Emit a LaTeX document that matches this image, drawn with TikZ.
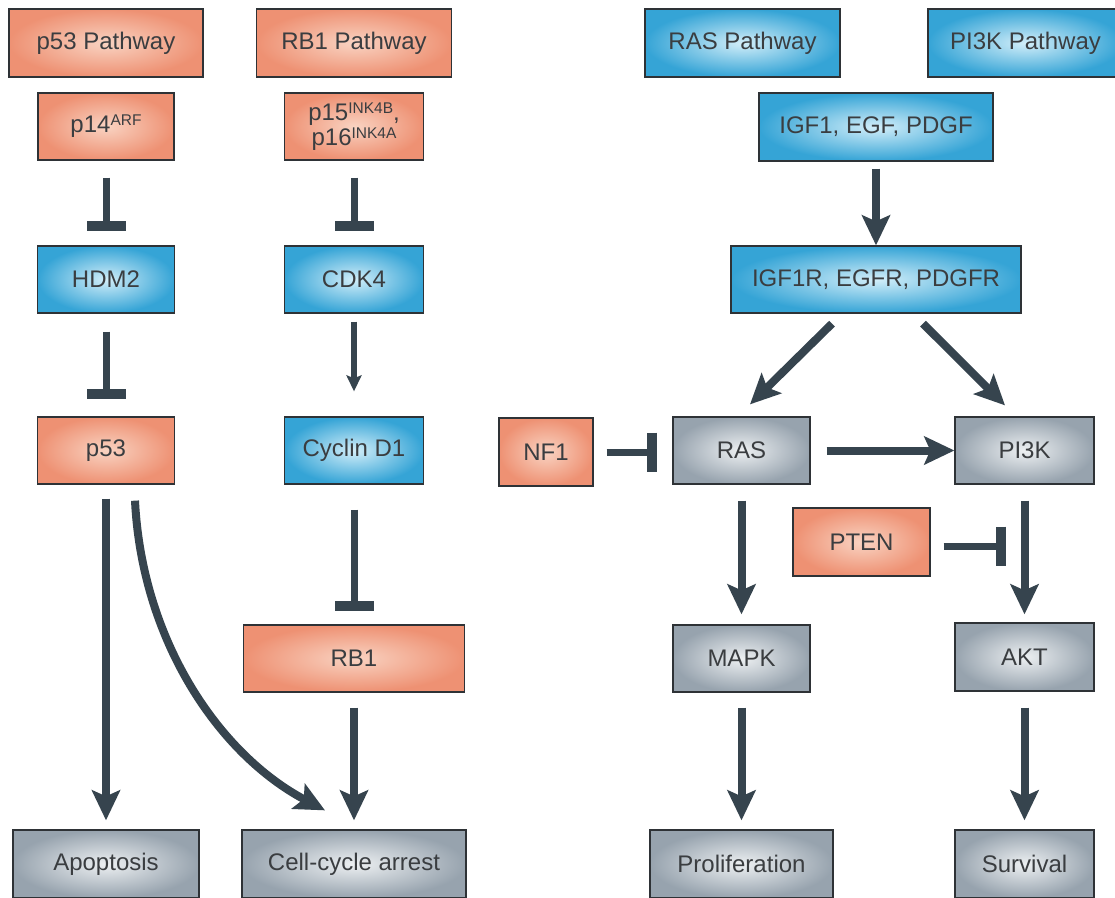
\documentclass[tikz,border=0pt]{standalone}
\usepackage{fontspec}
\setmainfont{Liberation Sans}
\usetikzlibrary{arrows.meta,calc}
\definecolor{salin}{HTML}{F9D3C2}
\definecolor{salout}{HTML}{EE9173}
\definecolor{bluin}{HTML}{D2EEF9}
\definecolor{bluout}{HTML}{35A4D6}
\definecolor{gryin}{HTML}{EDF0F2}
\definecolor{gryout}{HTML}{97A3AE}
\definecolor{boxline}{HTML}{2E3236}
\definecolor{txt}{HTML}{3A3D40}
\definecolor{arrc}{HTML}{36444E}
\newcommand\supx[1]{\raisebox{7pt}{\fontsize{15.5}{15.5}\selectfont #1}}
\tikzset{
  box/.style={draw=boxline, line width=1.3pt, inner sep=0pt, text=txt,
    font=\fontsize{24}{25}\selectfont, align=center},
  sal/.style={box, inner color=salin, outer color=salout},
  blu/.style={box, inner color=bluin, outer color=bluout},
  gry/.style={box, inner color=gryin, outer color=gryout},
  arr/.style={draw=arrc, line width=8pt, -{Stealth[length=30pt,width=28pt,inset=6pt]}},
  thinarr/.style={draw=arrc, line width=6pt, -{Stealth[length=16pt,width=15pt,inset=3pt]}},
  inh/.style={draw=arrc, line width=7pt, -{Bar[width=39pt,line width=10pt]}},
}
\begin{document}
\begin{tikzpicture}[x=1pt,y=-1pt]
\clip (0,0) rectangle (1115,897);
\fill[white] (0,0) rectangle (1115,897);

% top row
\node[sal, minimum width=194pt, minimum height=68pt] (p53path) at (106,43) {p53 Pathway};
\node[sal, minimum width=195pt, minimum height=68pt] (rb1path) at (354,43) {RB1 Pathway};
\node[blu, minimum width=195pt, minimum height=68pt] (raspath) at (742.5,43) {RAS Pathway};
\node[blu, minimum width=195pt, minimum height=68pt] (pi3kpath) at (1025.5,43) {PI3K Pathway};

% second row
\node[sal, minimum width=136pt, minimum height=67pt] (p14) at (106,126.5) {p14\supx{ARF}};
\node[sal, minimum width=139pt, minimum height=67pt] (p15) at (354,126.5) {p15\supx{INK4B},\\p16\supx{INK4A}};
\node[blu, minimum width=234pt, minimum height=68pt] (igf) at (876,127) {IGF1, EGF, PDGF};

% third row
\node[blu, minimum width=137pt, minimum height=67pt] (hdm2) at (106,279.5) {HDM2};
\node[blu, minimum width=139pt, minimum height=67pt] (cdk4) at (354,279.5) {CDK4};
\node[blu, minimum width=290pt, minimum height=67pt] (igfr) at (876,279.5) {IGF1R, EGFR, PDGFR};

% fourth row
\node[sal, minimum width=137pt, minimum height=67pt] (p53) at (106,450.5) {p53};
\node[blu, minimum width=139pt, minimum height=67pt] (cyc) at (354,450.5) {Cyclin D1};
\node[sal, minimum width=94pt, minimum height=68pt] (nf1) at (546,452) {NF1};
\node[gry, minimum width=137pt, minimum height=67pt] (ras) at (741.5,450.5) {RAS};
\node[gry, minimum width=139pt, minimum height=67pt] (pi3k) at (1024.5,450.5) {PI3K};
\node[sal, minimum width=137pt, minimum height=68pt] (pten) at (861.5,542) {PTEN};

% fifth row
\node[sal, minimum width=221pt, minimum height=67pt] (rb1) at (354,658.5) {RB1};
\node[gry, minimum width=137pt, minimum height=67pt] (mapk) at (741.5,658.5) {MAPK};
\node[gry, minimum width=139pt, minimum height=68pt] (akt) at (1024.5,657) {AKT};

% bottom row
\node[gry, minimum width=186pt, minimum height=68pt] (apop) at (106,864) {Apoptosis};
\node[gry, minimum width=224pt, minimum height=68pt] (cca) at (354,864) {Cell-cycle arrest};
\node[gry, minimum width=183pt, minimum height=68pt] (prol) at (741.5,864) {Proliferation};
\node[gry, minimum width=139pt, minimum height=68pt] (surv) at (1024.5,864) {Survival};

% p53 pathway
\draw[inh, shorten <=17pt, shorten >=14pt] (p14.south) -- (hdm2.north);
\draw[inh, shorten <=18pt, shorten >=17pt] (hdm2.south) -- (p53.north);
\draw[arr, shorten <=14pt, shorten >=9pt] (p53.south) -- (apop.north);
\coordinate (cstart) at ($(p53.south)+(29,16)$);
\coordinate (cend) at ($(cca.north)+(-29,-19)$);
\draw[arr] (cstart) .. controls ($(cstart)+(7,140)$) and ($(cend)+(-106,-56)$) .. (cend);

% RB1 pathway
\draw[inh, shorten <=17pt, shorten >=14pt] (p15.south) -- (cdk4.north);
\draw[thinarr, shorten <=8pt, shorten >=25pt] (cdk4.south) -- (cyc.north);
\draw[inh, shorten <=25pt, shorten >=13pt] (cyc.south) -- (rb1.north);
\draw[arr, shorten <=15pt, shorten >=9pt] (rb1.south) -- (cca.north);

% RAS / PI3K pathway
\draw[arr, shorten <=7pt] (igf.south) -- (igfr.north);
\draw[arr] ($(igfr.south)+(-44,10)$) -- ($(ras.north)+(8.5,-12)$);
\draw[arr] ($(igfr.south)+(47,10)$) -- ($(pi3k.north)+(-19.5,-11)$);
\draw[inh, shorten <=13pt, shorten >=15pt] (nf1.east) -- (nf1.east -| ras.west);
\draw[arr, shorten <=16pt] (ras.east) -- (pi3k.west);
\draw[arr, shorten <=16pt, shorten >=10pt] (ras.south) -- (mapk.north);
\draw[arr, shorten <=15pt, shorten >=9pt] (mapk.south) -- (prol.north);
\draw[arr, shorten <=16pt, shorten >=8pt] (pi3k.south) -- (akt.north);
\draw[arr, shorten <=16pt, shorten >=9pt] (akt.south) -- (akt.south |- surv.north);
\coordinate (ptenend) at ($(pten.east -| akt.west)+(52,4)$);
\draw[inh, shorten <=13pt] ($(pten.east)+(0,4)$) -- (ptenend);
\end{tikzpicture}
\end{document}
